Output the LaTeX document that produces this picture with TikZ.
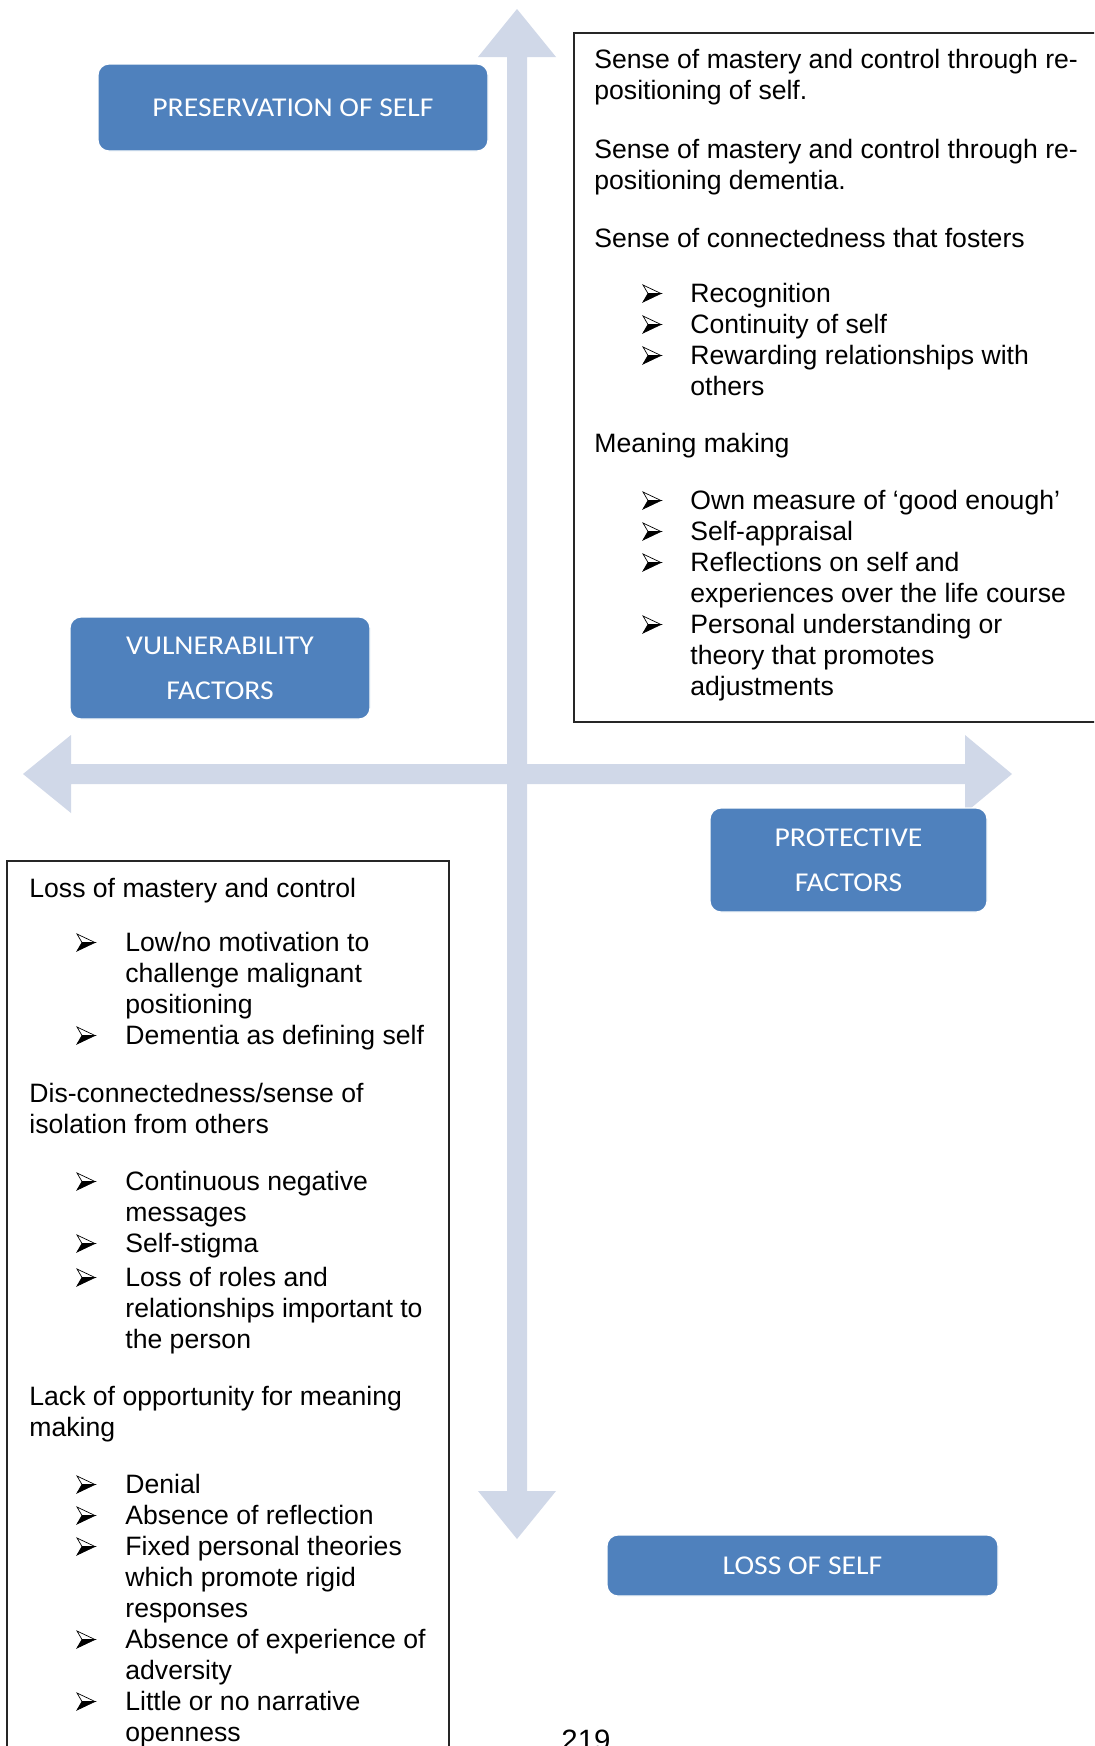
\documentclass[tikz,border=0pt]{standalone}
\usepackage{fontspec}
\newfontfamily\txtfont{Liberation Sans}
\newfontfamily\boxfont[FakeStretch=1.09]{Carlito}
\definecolor{boxblue}{HTML}{4F81BD}
\definecolor{arrowc}{HTML}{D0D8E8}
\tikzset{
  catbox/.style={rounded corners=5.5pt, fill=boxblue, draw=white, line width=0.6pt,
    text=white, font=\boxfont\fontsize{13.6}{22.5}\selectfont, align=center, inner sep=0pt},
  txt/.style={anchor=base west, inner sep=0pt, font=\txtfont\fontsize{13.3}{15.5}\selectfont},
  bulnode/.style={anchor=south west, minimum width=9pt, minimum height=8.5pt, inner sep=0pt, outer sep=0pt},
  framebox/.style={draw=black!85, line width=0.75pt},
  bigarrow/.style={fill=arrowc, draw=none}
}
\newcommand\drawbullet[1]{%
  \filldraw[fill=white, draw=black, line width=0.35pt, line join=miter]
    (#1.north west) -- (#1.east) -- ([xshift=2.5pt]#1.west) -- cycle;
  \filldraw[fill=black, draw=black, line width=0.35pt, line join=miter]
    (#1.south west) -- (#1.east) -- ([xshift=2.5pt]#1.west) -- cycle;}
\begin{document}
\begin{tikzpicture}[x=0.5pt,y=-0.5pt]
\useasboundingbox (0,0) rectangle (1094,1746);
\clip (0,0) rectangle (1094,1746);
\fill[white] (0,0) rectangle (1094,1746);
% cross of double arrows
\path[bigarrow] (507,57) -- (478,57) -- (517,9) -- (556,57) -- (527,57)
  -- (527,1491) -- (556,1491) -- (517,1539) -- (478,1491) -- (507,1491) -- cycle;
\path[bigarrow] (71,764) -- (71,735) -- (23,774) -- (71,813) -- (71,784)
  -- (965,784) -- (965,813) -- (1012,774) -- (965,735) -- (965,764) -- cycle;
% text frames
\draw[framebox] (574,33) rectangle (1110,722);
\draw[framebox] (7,861) rectangle (449,1760);
% category boxes
\node[catbox, minimum width=195pt, minimum height=43.5pt] (pres) at (293,107.5) {PRESERVATION OF SELF};
\node[catbox, minimum width=150pt, minimum height=51pt] (vuln) at (220,668) {VULNERABILITY\\FACTORS};
\node[catbox, minimum width=138.5pt, minimum height=52pt] (prot) at (848.5,860) {PROTECTIVE\\FACTORS};
\node[catbox, minimum width=195.5pt, minimum height=30.5pt] (loss) at (802.5,1565.5) {LOSS OF SELF};
% right box text
\foreach \yy/\tx [count=\i] in {
  68/{Sense of mastery and control through re-},
  99/{positioning of self.},
  158/{Sense of mastery and control through re-},
  189/{positioning dementia.},
  247/{Sense of connectedness that fosters},
  452/{Meaning making}}
  {\node[txt] (rp\i) at (594,\yy) {\tx};}
\foreach \yy/\tx [count=\i] in {
  302/{Recognition},
  333/{Continuity of self},
  364/{Rewarding relationships with},
  509/{Own measure of ‘good enough’},
  540/{Self-appraisal},
  571/{Reflections on self and},
  633/{Personal understanding or}}
  {\node[bulnode] (rb\i) at (643,\yy) {};
   \drawbullet{rb\i}
   \node[txt] (rbt\i) at (690,\yy) {\tx};}
\foreach \yy/\tx [count=\i] in {
  395/{others},
  602/{experiences over the life course},
  664/{theory that promotes},
  695/{adjustments}}
  {\node[txt] (rc\i) at (690,\yy) {\tx};}
% left box text
\foreach \yy/\tx [count=\i] in {
  897/{Loss of mastery and control},
  1102/{Dis-connectedness/sense of},
  1133/{isolation from others},
  1405/{Lack of opportunity for meaning},
  1436/{making}}
  {\node[txt] (lp\i) at (29,\yy) {\tx};}
\foreach \yy/\tx [count=\i] in {
  951/{Low/no motivation to},
  1044/{Dementia as defining self},
  1190/{Continuous negative},
  1252/{Self-stigma},
  1286/{Loss of roles and},
  1493/{Denial},
  1524/{Absence of reflection},
  1555/{Fixed personal theories},
  1648/{Absence of experience of},
  1710/{Little or no narrative}}
  {\node[bulnode] (lb\i) at (77,\yy) {};
   \drawbullet{lb\i}
   \node[txt] (lbt\i) at (125,\yy) {\tx};}
\foreach \yy/\tx [count=\i] in {
  982/{challenge malignant},
  1013/{positioning},
  1221/{messages},
  1317/{relationships important to},
  1348/{the person},
  1586/{which promote rigid},
  1617/{responses},
  1679/{adversity},
  1741/{openness}}
  {\node[txt] (lc\i) at (125,\yy) {\tx};}
% page number
\node[anchor=base west, inner sep=0pt, font=\txtfont\fontsize{14.7}{17}\selectfont] (pg) at (561,1750) {219};
\end{tikzpicture}
\end{document}
